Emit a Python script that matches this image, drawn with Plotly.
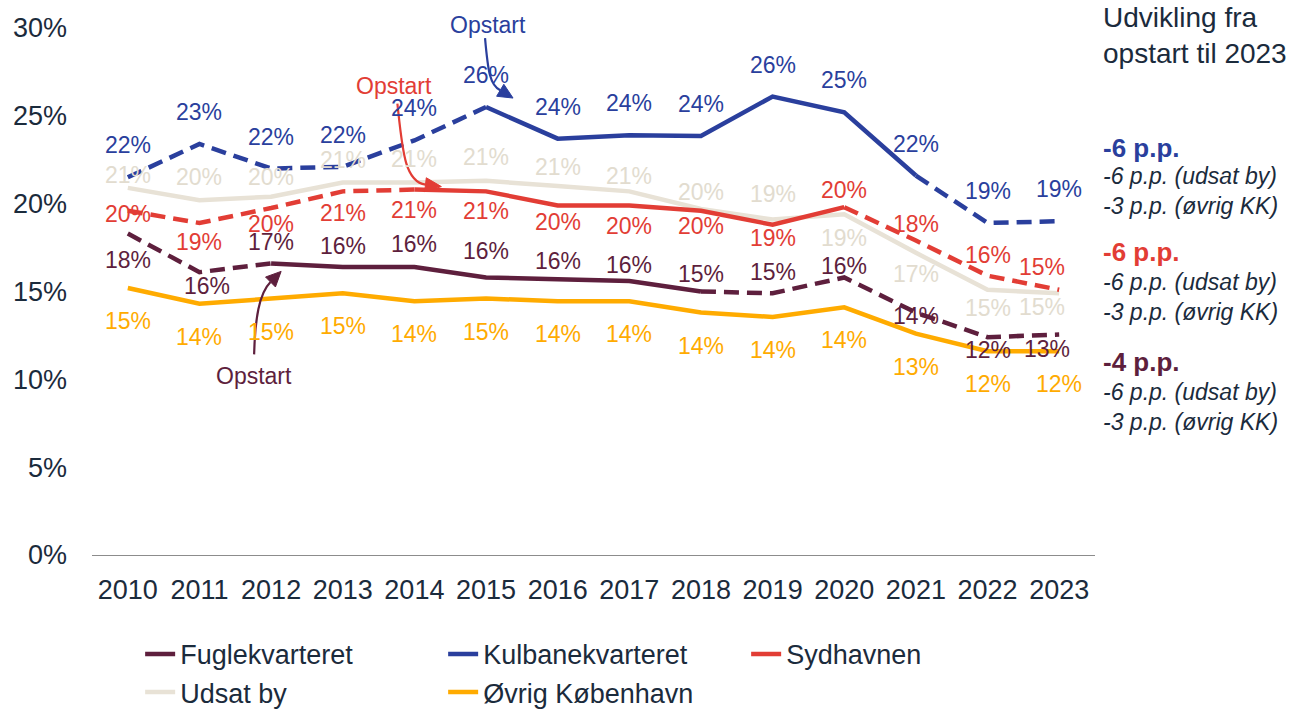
import plotly.graph_objects as go

# Share of residents (%) per area and year
years = list(range(2010, 2024))
fuglekvarteret = [18.3, 16.1, 16.6, 16.4, 16.4, 15.8, 15.7, 15.6, 15.0, 14.9, 15.8, 13.8, 12.4, 12.55]
kulbanekvarteret = [21.5, 23.4, 22.0, 22.1, 23.6, 25.5, 23.7, 23.9, 23.85, 26.1, 25.2, 21.6, 18.9, 19.0]
sydhavnen = [19.6, 18.9, 19.75, 20.7, 20.8, 20.7, 19.9, 19.9, 19.6, 18.8, 19.8, 17.9, 15.9, 15.1]
udsat_by = [20.9, 20.2, 20.4, 21.2, 21.2, 21.3, 21.0, 20.7, 19.7, 19.1, 19.4, 17.2, 15.1, 14.9]
ovrig_kbh = [15.2, 14.3, 14.6, 14.9, 14.45, 14.6, 14.45, 14.45, 13.8, 13.55, 14.1, 12.6, 11.6, 11.6]

FONT = "Arial, Liberation Sans, sans-serif"
INK = "#1B2B3C"
C_FUGLE = "#5E1F3D"
C_KUL = "#2A3F9D"
C_SYD = "#E23D35"
C_UDSAT = "#E8E2D6"
C_OVRIG = "#FFAB00"
LW = 4.5
DASH = "15px,8px"

# (name, values, colour, legend rank, solid period or None when fully solid)
series = [
    ("Udsat by", udsat_by, C_UDSAT, 4, None),
    ("Øvrig København", ovrig_kbh, C_OVRIG, 5, None),
    ("Fuglekvarteret", fuglekvarteret, C_FUGLE, 1, (2012, 2018)),
    ("Sydhavnen", sydhavnen, C_SYD, 3, (2014, 2020)),
    ("Kulbanekvarteret", kulbanekvarteret, C_KUL, 2, (2015, 2021)),
]

# label offsets (dx, dy) in screen pixels, dy positive = downwards
label_offsets = {
    "Kulbanekvarteret": [(0, -32)] * 14,
    "Sydhavnen": [(0, 3), (0, 19), (0, 16), (0, 22), (0, 20), (0, 20), (0, 17),
                  (0, 21), (0, 15), (0, 13), (0, -17), (0, -17), (0, -21), (-17, -23)],
    "Udsat by": [(0, -13), (0, -23), (0, -20), (0, -23), (0, -24), (0, -24), (0, -19),
                 (0, -15), (0, -17), (0, -25), (0, 24), (0, 21), (0, 18), (-17, 14)],
    "Fuglekvarteret": [(0, 26), (8, 14), (0, -21), (0, -21), (0, -23), (0, -26), (0, -18),
                       (0, -16), (0, -18), (0, -21), (0, -11), (0, 3), (0, 13), (-12, 14)],
    "Øvrig København": [(0, 33)] * 14,
}
label_colors = {"Udsat by": "#E2DCCF"}

fig = go.Figure()
annotations = []

for name, vals, col, rank, period in series:
    if period is None:
        fig.add_trace(go.Scatter(
            x=years, y=vals, mode="lines", name=name, legendrank=rank,
            line=dict(color=col, width=LW), hoverinfo="skip"))
    else:
        a, b = period
        solid = [v if a <= yr <= b else None for yr, v in zip(years, vals)]
        dashed_pre = [v if yr <= a else None for yr, v in zip(years, vals)]
        dashed_post = [v if yr >= b else None for yr, v in zip(years, vals)]
        for seg in (dashed_pre, dashed_post):
            fig.add_trace(go.Scatter(
                x=years, y=seg, mode="lines", showlegend=False,
                line=dict(color=col, width=LW, dash=DASH), connectgaps=False,
                hoverinfo="skip"))
        fig.add_trace(go.Scatter(
            x=years, y=solid, mode="lines", name=name, legendrank=rank,
            line=dict(color=col, width=LW), connectgaps=False, hoverinfo="skip"))
    for (yr, v), (dx, dy) in zip(zip(years, vals), label_offsets[name]):
        annotations.append(dict(
            x=yr, y=v, xref="x", yref="y", text=f"{int(v + 0.5)}%", showarrow=False,
            xshift=dx, yshift=-dy,
            font=dict(family=FONT, size=23, color=label_colors.get(name, col))))

# "Opstart" markers: curved arrow + head, anchored at the start point of each area
shapes = []
starts = [
    # colour, year, value, curve path, head path, text shift
    (C_KUL, 2015, kulbanekvarteret[years.index(2015)],
     "M -1,69 C 2,35 4,22 14.2,16.8", "M 27,9 L 10.6,10.8 L 17.8,22.8 Z", (2, 82)),
    (C_SYD, 2014, sydhavnen[years.index(2014)],
     "M -17,86 C -12,40 -10,8 11.1,4.9", "M 27,3 L 10.3,-2.05 L 11.9,11.85 Z", (-20, 104)),
    (C_FUGLE, 2012, fuglekvarteret[years.index(2012)],
     "M -17,-91 C -16,-55 -12,-30 -0.6,-18.6", "M 10,-8 L 4.35,-23.55 L -5.55,-13.65 Z", (-17, -113)),
]
for col, yr, v, curve, head, (tx, ty) in starts:
    common = dict(type="path", xref="x", yref="y", xsizemode="pixel", ysizemode="pixel",
                  xanchor=yr, yanchor=v)
    shapes.append(dict(common, path=curve, line=dict(color=col, width=2.2)))
    shapes.append(dict(common, path=head, fillcolor=col, line=dict(color=col, width=1)))
    annotations.append(dict(
        x=yr, y=v, xref="x", yref="y", text="Opstart", showarrow=False,
        xshift=tx, yshift=ty, font=dict(family=FONT, size=23, color=col)))

# right-hand panel: change from start to 2023
annotations.append(dict(
    x=1.006, y=0.985, xref="paper", yref="paper", xanchor="left", yanchor="middle",
    align="left", showarrow=False, text="Udvikling fra<br>opstart til 2023",
    font=dict(family=FONT, size=28, color=INK)))
panel = [
    ("-6 p.p.", C_KUL, 0.772, 0.691),
    ("-6 p.p.", C_SYD, 0.575, 0.489),
    ("-4 p.p.", C_FUGLE, 0.366, 0.280),
]
for head_txt, col, y_head, y_sub in panel:
    annotations.append(dict(
        x=1.006, y=y_head, xref="paper", yref="paper", xanchor="left", yanchor="middle",
        showarrow=False, text=f"<b>{head_txt}</b>",
        font=dict(family=FONT, size=26, color=col)))
    annotations.append(dict(
        x=1.006, y=y_sub, xref="paper", yref="paper", xanchor="left", yanchor="middle",
        align="left", showarrow=False,
        text="<i>-6 p.p. (udsat by)</i><br><i>-3 p.p. (øvrig KK)</i>",
        font=dict(family=FONT, size=23, color=INK)))

fig.update_layout(
    width=1296, height=713,
    margin=dict(l=92, r=201, t=28, b=158, autoexpand=False),
    paper_bgcolor="white", plot_bgcolor="white",
    font=dict(family=FONT, color=INK),
    showlegend=True,
    legend=dict(
        orientation="h", x=0.048, xanchor="left", y=-0.142, yanchor="top",
        entrywidth=258, entrywidthmode="pixels", tracegroupgap=0,
        font=dict(family=FONT, size=27, color=INK), bgcolor="rgba(0,0,0,0)"),
    annotations=annotations,
    shapes=shapes,
)
fig.update_xaxes(
    range=[2009.5, 2023.5], tickvals=years, ticktext=[str(y) for y in years],
    showgrid=False, zeroline=False, showline=True, linecolor="#8C8C8C", linewidth=1,
    ticks="", ticklabelstandoff=11, tickfont=dict(family=FONT, size=27, color=INK))
fig.update_yaxes(
    range=[0, 30], dtick=5, ticksuffix="%", showgrid=False, zeroline=False,
    showline=False, ticks="", ticklabelstandoff=24,
    tickfont=dict(family=FONT, size=27, color=INK))

fig.write_html("out.html")
